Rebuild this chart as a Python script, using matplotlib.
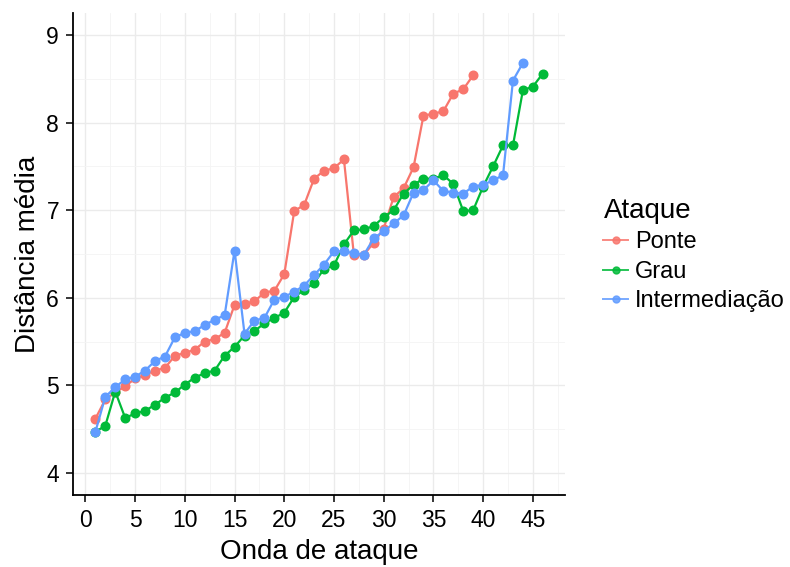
import numpy as np
import matplotlib
matplotlib.use("Agg")
import matplotlib.pyplot as plt
from matplotlib.lines import Line2D

plt.rcParams["font.family"] = ["Liberation Sans", "DejaVu Sans"]

# mean distance per attack wave, one list per attack type
ponte = [4.62, 4.84, 4.92, 4.99, 5.08, 5.12, 5.17, 5.20, 5.34, 5.37,
         5.41, 5.50, 5.53, 5.60, 5.92, 5.93, 5.96, 6.06, 6.08, 6.27,
         6.99, 7.06, 7.36, 7.45, 7.48, 7.58, 6.49, 6.49, 6.63, 6.79,
         7.15, 7.25, 7.49, 8.08, 8.10, 8.13, 8.33, 8.38, 8.54]
grau = [4.47, 4.54, 4.93, 4.63, 4.68, 4.71, 4.78, 4.86, 4.92, 5.01,
        5.09, 5.14, 5.17, 5.34, 5.44, 5.57, 5.62, 5.71, 5.77, 5.83,
        6.01, 6.09, 6.17, 6.33, 6.37, 6.61, 6.77, 6.78, 6.82, 6.92,
        7.00, 7.19, 7.29, 7.36, 7.36, 7.40, 7.30, 6.99, 7.00, 7.27,
        7.50, 7.74, 7.74, 8.37, 8.41, 8.56]
intermediacao = [4.47, 4.87, 4.98, 5.07, 5.10, 5.17, 5.28, 5.33, 5.55, 5.60,
                 5.62, 5.69, 5.75, 5.80, 6.54, 5.59, 5.74, 5.77, 5.98, 6.01,
                 6.07, 6.14, 6.26, 6.38, 6.53, 6.53, 6.51, 6.49, 6.68, 6.76,
                 6.85, 6.94, 7.20, 7.23, 7.34, 7.22, 7.20, 7.19, 7.27, 7.29,
                 7.34, 7.40, 8.48, 8.68]

series = [("Ponte", ponte, "#F8766D"),
          ("Grau", grau, "#00BA38"),
          ("Intermediação", intermediacao, "#619CFF")]

fig = plt.figure(figsize=(7.9, 5.67), dpi=100)
ax = fig.add_axes([0.0924, 0.127, 0.623, 0.850])

for name, vals, col in series:
    x = np.arange(1, len(vals) + 1)
    ax.plot(x, vals, color=col, lw=1.6, marker="o", ms=6.2, label=name,
            zorder=3)

ax.set_xlim(-1.25, 48.25)
ax.set_ylim(3.75, 9.25)
ax.set_xticks(np.arange(0, 46, 5))
ax.set_yticks(np.arange(4, 10, 1))
ax.set_xticks(np.arange(2.5, 48, 5), minor=True)
ax.set_yticks(np.arange(4.5, 9.5, 1), minor=True)

ax.grid(True, which="major", color="#EBEBEB", lw=1.0)
ax.grid(True, which="minor", color="#F4F4F4", lw=0.6)
ax.set_axisbelow(True)

for side in ("top", "right"):
    ax.spines[side].set_visible(False)
for side in ("left", "bottom"):
    ax.spines[side].set_linewidth(1.3)
    ax.spines[side].set_color("black")

ax.tick_params(which="major", length=5, width=1.1, color="black",
               labelsize=16.5, labelcolor="black", pad=5)
ax.tick_params(which="minor", length=0)

ax.set_xlabel("Onda de ataque", fontsize=20, labelpad=5)
ax.set_ylabel("Distância média", fontsize=20, labelpad=4)

# legend keys are drawn a bit smaller and lighter than the data marks
handles = [Line2D([0], [0], color=c, lw=1.4, marker="o", ms=5, alpha=0.85)
           for _, _, c in series]
labels = [n for n, _, _ in series]
leg = fig.legend(handles, labels, title="Ataque", loc="center left",
                 bbox_to_anchor=(0.737, 0.55), frameon=False, fontsize=17,
                 title_fontsize=20, handlelength=1.05, handletextpad=0.3,
                 labelspacing=0.32)
leg._legend_box.align = "left"

fig.savefig("out.png", dpi=100)
